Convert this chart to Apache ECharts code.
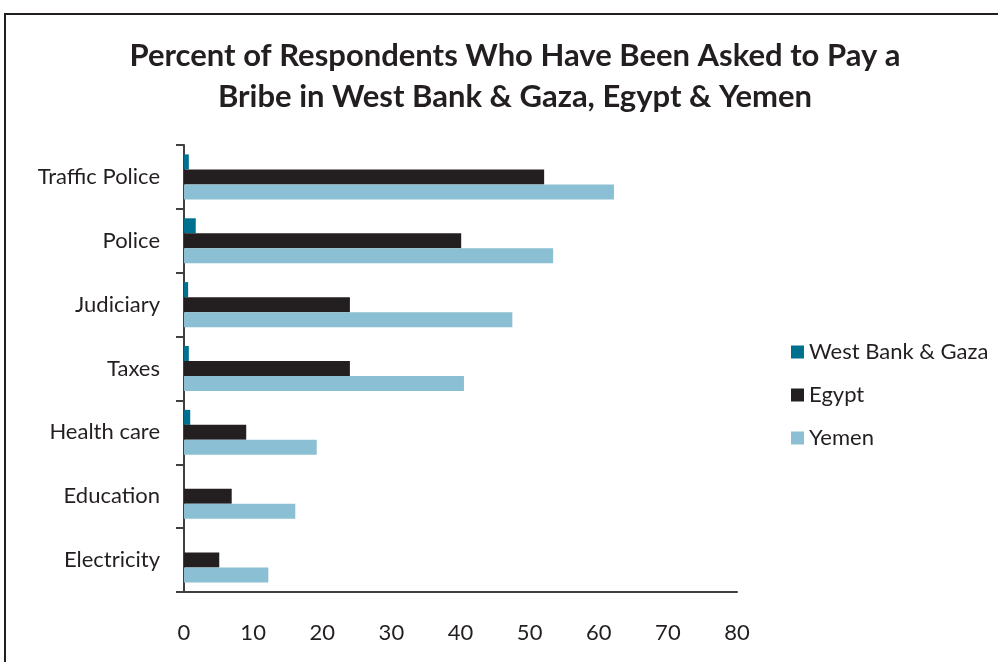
<!DOCTYPE html>
<html>
<head>
<meta charset="utf-8">
<script src="https://cdn.jsdelivr.net/npm/echarts@6/dist/echarts.min.js"></script>
<style>
  html, body { margin: 0; padding: 0; background: #fff; }
  #chart { width: 998px; height: 662px; }
</style>
</head>
<body>
<div id="chart"></div>
<script>
// Categories listed top to bottom
const categories = ['Traffic Police', 'Police', 'Judiciary', 'Taxes', 'Health care', 'Education', 'Electricity'];
const westBankGaza = [0.7, 1.7, 0.6, 0.7, 0.9, 0, 0];
const egypt = [52.1, 40.1, 24.0, 24.0, 9.0, 6.9, 5.1];
const yemen = [62.2, 53.4, 47.5, 40.5, 19.2, 16.1, 12.2];
const xTicks = [0, 10, 20, 30, 40, 50, 60, 70, 80];

const FONT = 'Lato, "Open Sans", sans-serif';
const chart = echarts.init(document.getElementById('chart'));

chart.setOption({
  backgroundColor: '#ffffff',
  animation: false,
  title: {
    text: 'Percent of Respondents Who Have Been Asked to Pay a\nBribe in West Bank & Gaza, Egypt & Yemen',
    left: 510,
    textAlign: 'center',
    top: 30,
    textStyle: { fontFamily: FONT, fontSize: 31, fontWeight: 'bold', color: '#231f20', lineHeight: 41 }
  },
  graphic: [{
    type: 'rect',
    shape: { x: 5, y: 14, width: 1010, height: 670 },
    style: { fill: 'none', stroke: '#231f20', lineWidth: 2 },
    silent: true
  }],
  legend: {
    orient: 'vertical',
    left: 786,
    top: 336,
    itemWidth: 13,
    itemHeight: 13,
    itemGap: 21,
    icon: 'rect',
    textStyle: { fontFamily: FONT, fontSize: 22, color: '#231f20' },
    data: ['West Bank & Gaza', 'Egypt', 'Yemen']
  },
  grid: { left: 184, right: 261, top: 145, bottom: 70 },
  xAxis: {
    type: 'value',
    min: xTicks[0],
    max: xTicks[xTicks.length - 1],
    interval: 10,
    splitLine: { show: false },
    axisLine: { show: true, lineStyle: { color: '#404040', width: 2 } },
    axisTick: { show: false },
    axisLabel: { margin: 30, fontFamily: FONT, fontSize: 22, color: '#231f20' }
  },
  yAxis: {
    type: 'category',
    inverse: true,
    data: categories,
    axisLine: { show: true, lineStyle: { color: '#404040', width: 2 } },
    axisTick: { show: true, length: 8, lineStyle: { color: '#404040', width: 2 } },
    axisLabel: { margin: 24, fontFamily: FONT, fontSize: 22, color: '#231f20' }
  },
  series: [
    { name: 'West Bank & Gaza', type: 'bar', data: westBankGaza, barWidth: 15, barGap: '0%', barCategoryGap: '30%',
      itemStyle: { color: '#007090' } },
    { name: 'Egypt', type: 'bar', data: egypt, barWidth: 15, barGap: '0%',
      itemStyle: { color: '#231f20' } },
    { name: 'Yemen', type: 'bar', data: yemen, barWidth: 15, barGap: '0%',
      itemStyle: { color: '#8bbfd3' } }
  ]
});
</script>
</body>
</html>
